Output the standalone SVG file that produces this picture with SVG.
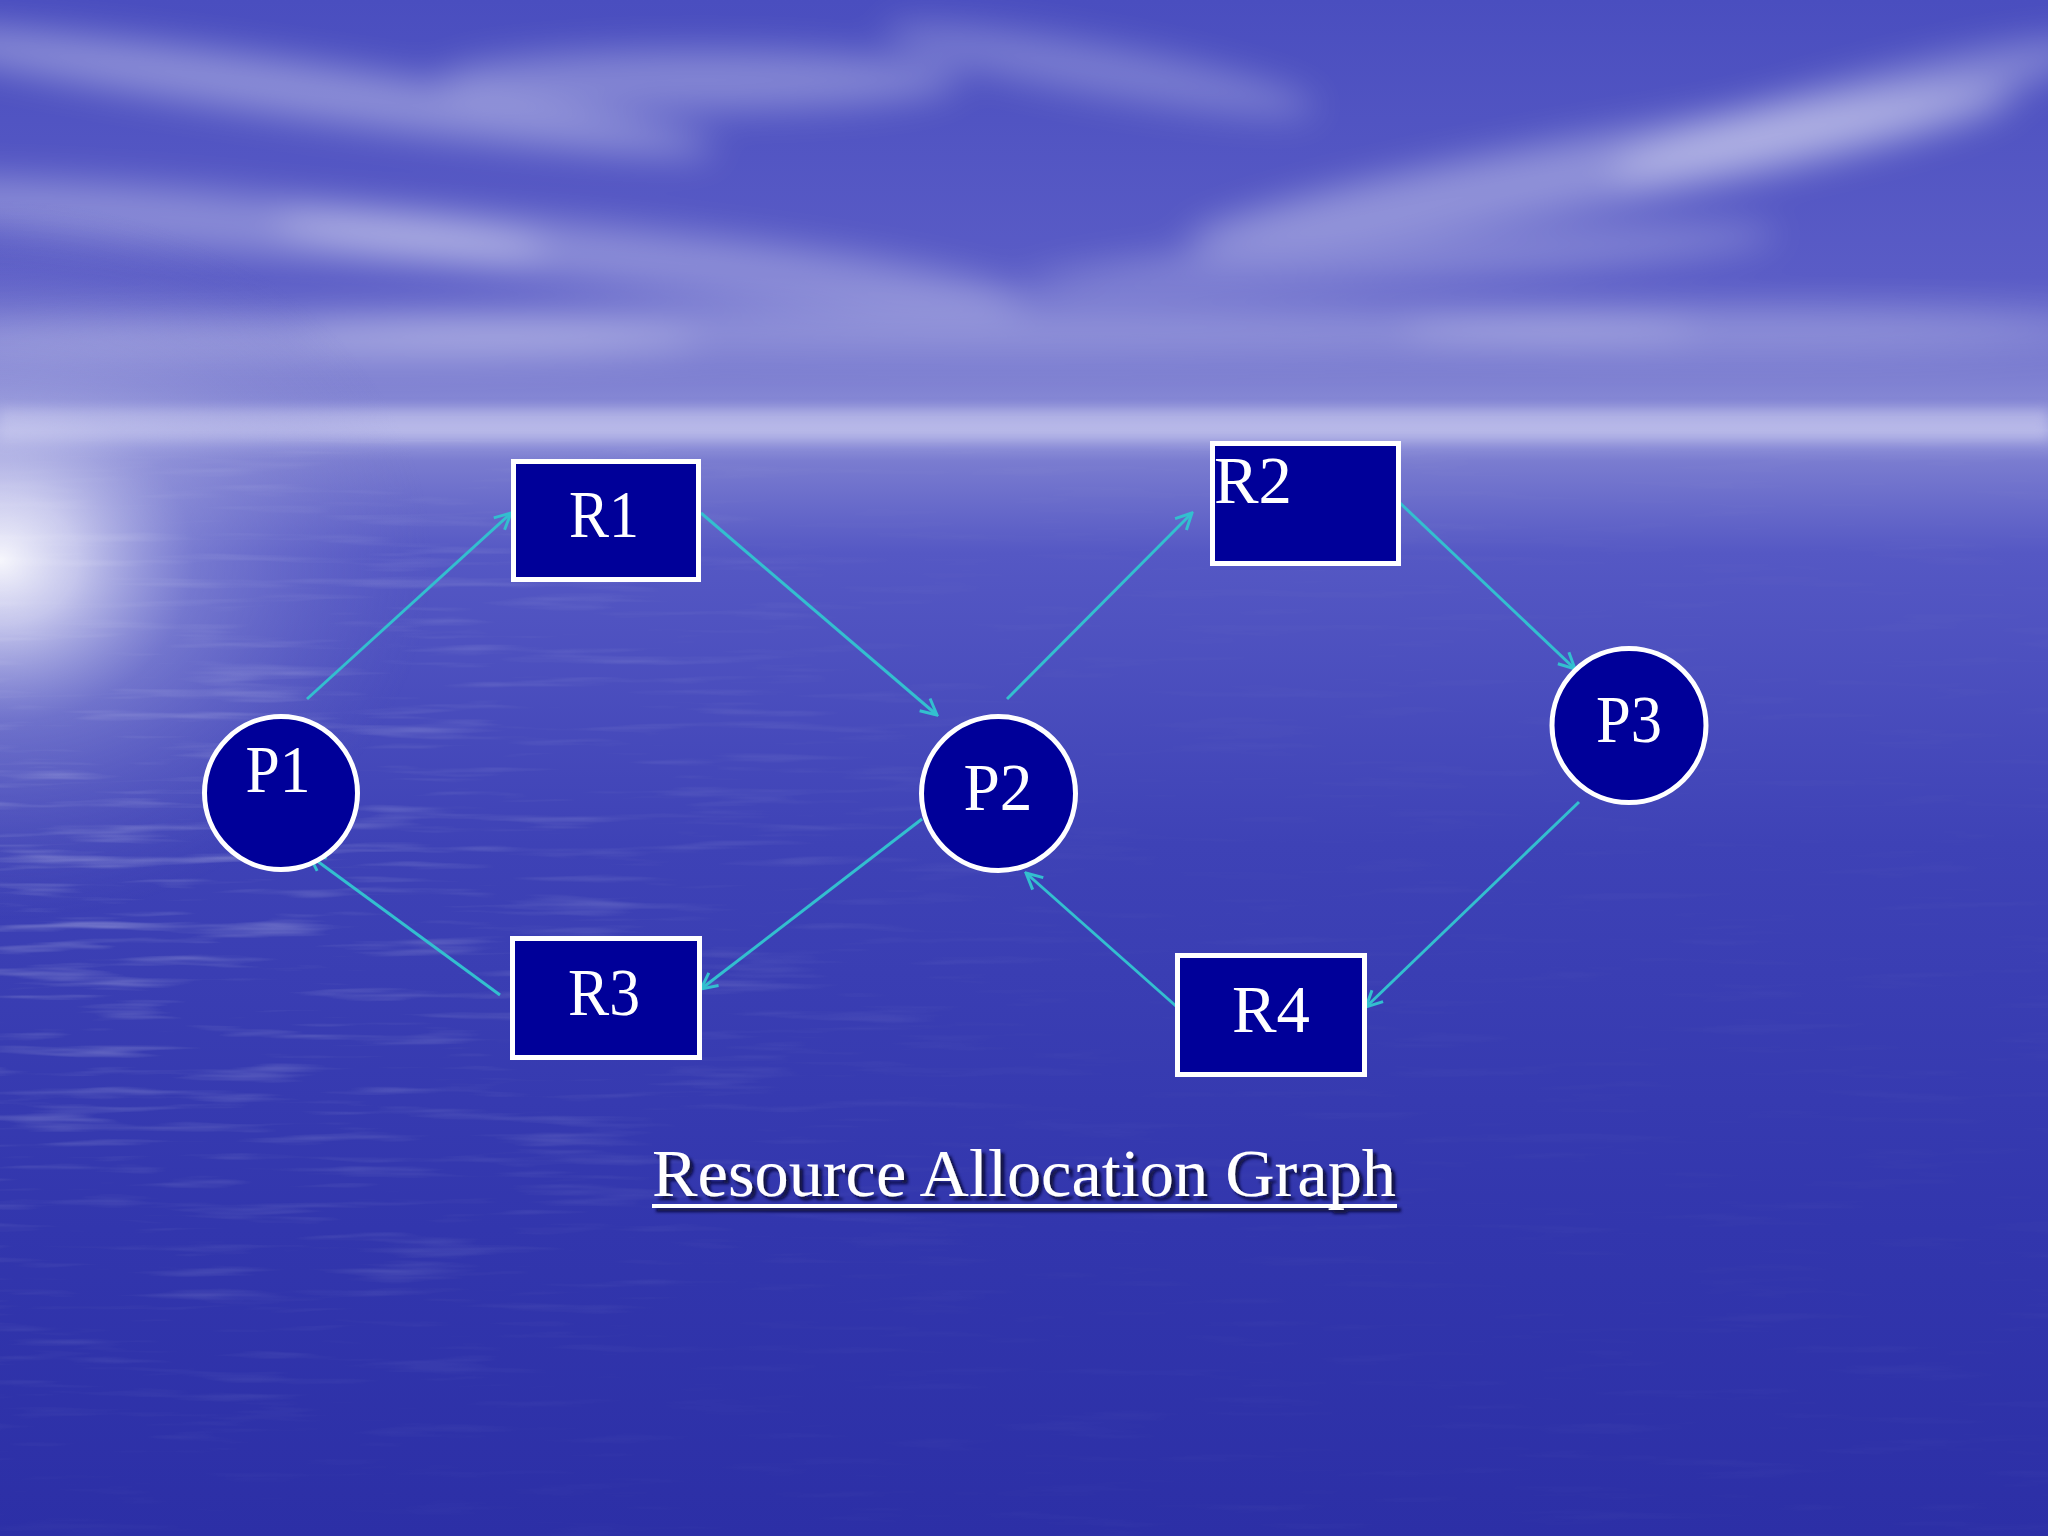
<svg xmlns="http://www.w3.org/2000/svg" width="2048" height="1536" viewBox="0 0 2048 1536">
<defs>
<style>
.node{fill:#000099;stroke:#ffffff;stroke-width:5}
.lbl{font-family:"Liberation Serif","Times New Roman",serif;font-size:68px;fill:#ffffff}
.edge{stroke:#33bfcf;stroke-width:3;fill:none;marker-end:url(#arr)}
</style>
<marker id="arr" markerUnits="userSpaceOnUse" markerWidth="22" markerHeight="22" viewBox="0 0 22 22" refX="20" refY="11" orient="auto">
<path d="M4,3 L20,11 L4,19" fill="none" stroke="#33bfcf" stroke-width="3"/>
</marker>
<linearGradient id="sky" x1="0" y1="0" x2="0" y2="1">
<stop offset="0" stop-color="#4a4ebf"/>
<stop offset="0.18" stop-color="#5a5cc6"/>
<stop offset="0.26" stop-color="#8587d4"/>
<stop offset="0.28" stop-color="#a4a6e2"/>
<stop offset="0.30" stop-color="#7a7cd0"/>
<stop offset="0.36" stop-color="#5558c4"/>
<stop offset="0.55" stop-color="#3e42b6"/>
<stop offset="0.8" stop-color="#3236ad"/>
<stop offset="1" stop-color="#2c2fa6"/>
</linearGradient>
<radialGradient id="sun" gradientUnits="userSpaceOnUse" cx="0" cy="560" r="480" gradientTransform="translate(0,560) scale(0.9,0.75) translate(0,-560)">
<stop offset="0" stop-color="#ffffff" stop-opacity="0.95"/>
<stop offset="0.18" stop-color="#ececfa" stop-opacity="0.75"/>
<stop offset="0.45" stop-color="#b8bae8" stop-opacity="0.35"/>
<stop offset="1" stop-color="#8080d0" stop-opacity="0"/>
</radialGradient>
<filter id="blur" x="-20%" y="-50%" width="140%" height="200%"><feGaussianBlur stdDeviation="18"/></filter>
<filter id="blur2" x="-20%" y="-50%" width="140%" height="200%"><feGaussianBlur stdDeviation="6"/></filter>
<filter id="water" x="0" y="0" width="100%" height="100%">
<feTurbulence type="fractalNoise" baseFrequency="0.006 0.09" numOctaves="3" seed="4"/>
<feColorMatrix type="matrix" values="0 0 0 0 1  0 0 0 0 1  0 0 0 0 1  0 0 0 1.6 -0.85"/>
</filter>
<radialGradient id="waterFade" gradientUnits="userSpaceOnUse" cx="0" cy="900" r="900" gradientTransform="translate(0,900) scale(1.2,0.7) translate(0,-900)">
<stop offset="0" stop-color="#fff" stop-opacity="0.55"/>
<stop offset="0.5" stop-color="#fff" stop-opacity="0.25"/>
<stop offset="1" stop-color="#fff" stop-opacity="0.04"/>
</radialGradient>
<mask id="wm"><rect x="0" y="440" width="2048" height="1096" fill="url(#waterFade)"/></mask>
<filter id="shadow" x="-5%" y="-30%" width="110%" height="160%">
<feGaussianBlur in="SourceAlpha" stdDeviation="1.5"/>
<feOffset dx="4" dy="4" result="o"/>
<feFlood flood-color="#0a0a30" flood-opacity="0.85"/>
<feComposite in2="o" operator="in"/>
<feMerge><feMergeNode/><feMergeNode in="SourceGraphic"/></feMerge>
</filter>
</defs>

<g id="background">
<rect width="2048" height="1536" fill="url(#sky)"/>
<g filter="url(#blur)" fill="#ffffff">
<ellipse cx="300" cy="90" rx="420" ry="28" opacity="0.35" transform="rotate(8 300 90)"/>
<ellipse cx="700" cy="80" rx="260" ry="30" opacity="0.3"/>
<ellipse cx="1100" cy="70" rx="220" ry="25" opacity="0.25" transform="rotate(10 1100 70)"/>
<ellipse cx="200" cy="220" rx="350" ry="30" opacity="0.3" transform="rotate(5 200 220)"/>
<ellipse cx="650" cy="260" rx="380" ry="30" opacity="0.3" transform="rotate(6 650 260)"/>
<ellipse cx="1600" cy="170" rx="420" ry="35" opacity="0.35" transform="rotate(-10 1600 170)"/>
<ellipse cx="1850" cy="110" rx="250" ry="30" opacity="0.3" transform="rotate(-15 1850 110)"/>
<ellipse cx="1400" cy="260" rx="380" ry="25" opacity="0.25" transform="rotate(-4 1400 260)"/>
<ellipse cx="1000" cy="330" rx="700" ry="22" opacity="0.25"/>
<ellipse cx="300" cy="340" rx="400" ry="20" opacity="0.3"/>
<ellipse cx="1750" cy="330" rx="350" ry="20" opacity="0.25"/>
</g>
<rect x="0" y="410" width="2048" height="30" fill="#c8c8ee" opacity="0.55" filter="url(#blur2)"/>
<rect x="0" y="440" width="2048" height="1096" filter="url(#water)" mask="url(#wm)"/>
<rect width="2048" height="1536" fill="url(#sun)"/>
</g>

<g id="connectors">
<line class="edge" x1="307" y1="699" x2="511" y2="513"/>
<line class="edge" x1="701" y1="513" x2="937" y2="715"/>
<line class="edge" x1="1007" y1="699" x2="1192" y2="513"/>
<line class="edge" x1="1400" y1="503" x2="1575" y2="669"/>
<line class="edge" x1="1579" y1="802" x2="1366" y2="1007"/>
<line class="edge" x1="1177" y1="1007" x2="1026" y2="873"/>
<line class="edge" x1="922" y1="819" x2="701" y2="989"/>
<line class="edge" x1="500" y1="995" x2="309" y2="855"/>
</g>

<g id="R1"><rect class="node" x="513.5" y="461.5" width="185" height="118"/><text class="lbl" x="604" y="537" text-anchor="middle" textLength="70" lengthAdjust="spacingAndGlyphs">R1</text></g>
<g id="R2"><rect class="node" x="1212.5" y="443.5" width="186" height="120"/><text class="lbl" x="1214" y="503" textLength="78" lengthAdjust="spacingAndGlyphs">R2</text></g>
<g id="R3"><rect class="node" x="512.5" y="938.5" width="187" height="119"/><text class="lbl" x="604" y="1015" text-anchor="middle" textLength="72" lengthAdjust="spacingAndGlyphs">R3</text></g>
<g id="R4"><rect class="node" x="1177.5" y="955.5" width="187" height="119"/><text class="lbl" x="1271" y="1032" text-anchor="middle" textLength="78" lengthAdjust="spacingAndGlyphs">R4</text></g>
<g id="P1"><circle class="node" cx="281" cy="793" r="76.5"/><text class="lbl" x="278" y="792" text-anchor="middle" textLength="65" lengthAdjust="spacingAndGlyphs">P1</text></g>
<g id="P2"><circle class="node" cx="998.5" cy="793.5" r="77"/><text class="lbl" x="998" y="810" text-anchor="middle" textLength="69" lengthAdjust="spacingAndGlyphs">P2</text></g>
<g id="P3"><circle class="node" cx="1629" cy="725.5" r="77"/><text class="lbl" x="1629" y="742" text-anchor="middle" textLength="66" lengthAdjust="spacingAndGlyphs">P3</text></g>

<g id="title" filter="url(#shadow)">
<text class="lbl" x="652" y="1196" textLength="744" lengthAdjust="spacingAndGlyphs">Resource Allocation Graph</text>
<rect x="652" y="1204" width="745" height="4" fill="#ffffff"/>
</g>
</svg>
